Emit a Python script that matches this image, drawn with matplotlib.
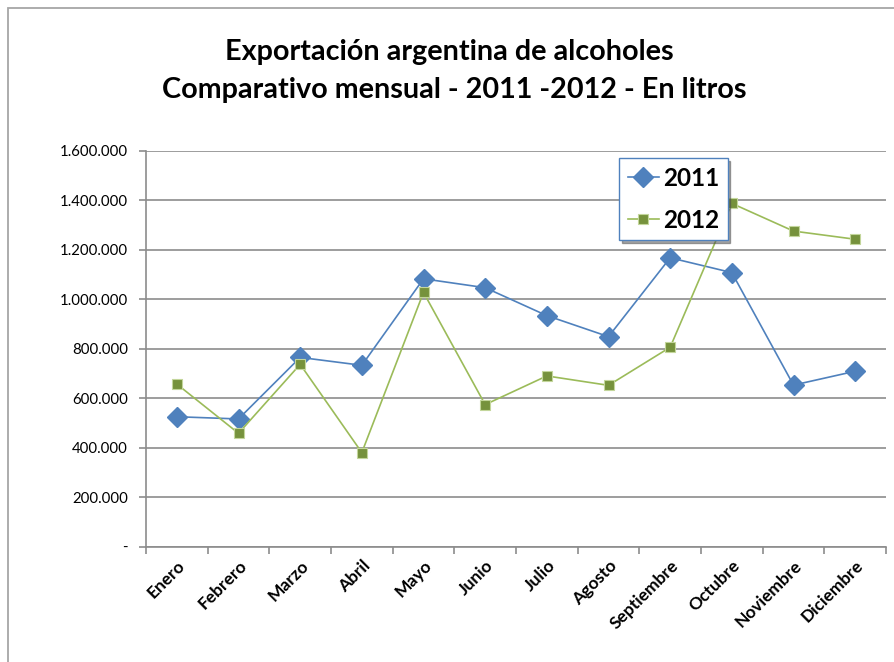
import matplotlib
matplotlib.use("Agg")
import matplotlib.pyplot as plt
from matplotlib.patches import Rectangle
from matplotlib.ticker import FuncFormatter, FixedLocator
import numpy as np

months = ["Enero", "Febrero", "Marzo", "Abril", "Mayo", "Junio", "Julio",
          "Agosto", "Septiembre", "Octubre", "Noviembre", "Diciembre"]
s2011 = [525000, 516000, 765000, 733000, 1083000, 1047000, 934000, 849000,
         1168000, 1108000, 653000, 709000]
s2012 = [657000, 458000, 737000, 380000, 1028000, 574000, 690000, 652000,
         806000, 1388000, 1276000, 1243000]
yticks = [0, 200000, 400000, 600000, 800000, 1000000, 1200000, 1400000, 1600000]

fig = plt.figure(figsize=(8.94, 6.62), dpi=100)
fig.patch.set_facecolor("white")

# outer chart border (extends beyond right/bottom edges)
fig.patches.append(Rectangle((8 / 894, -0.05), 1.2, 1 - 8 / 662 + 0.05,
                             transform=fig.transFigure, fill=False,
                             edgecolor="#A6A6A6", linewidth=1.3))

ax = fig.add_axes([146 / 894, 1 - 546.5 / 662, (886 - 146) / 894, (546.5 - 151) / 662])
x = np.arange(len(months))
ax.plot(x, s2011, color="#4F81BD", linewidth=1.2, marker="D", markersize=10,
        markerfacecolor="#4F81BD", markeredgecolor="#4F81BD", label="2011", zorder=3)
ax.plot(x, s2012, color="#9BBB59", linewidth=1.2, marker="s", markersize=7.5,
        markerfacecolor="#76923C", markeredgecolor="#C3D69B", markeredgewidth=0.8,
        label="2012", zorder=3)

ax.set_xlim(-0.5, len(months) - 0.5)
ax.set_ylim(0, 1600000)
ax.set_yticks(yticks)
ax.yaxis.set_major_formatter(FuncFormatter(
    lambda v, p: "-" if v == 0 else f"{int(v):,}".replace(",", ".")))
ax.grid(axis="y", color="#8C8C8C", linewidth=1.2)
ax.set_axisbelow(True)

for side in ["top", "right"]:
    ax.spines[side].set_visible(False)
ax.spines["left"].set_color("#8C8C8C")
ax.spines["bottom"].set_color("#8C8C8C")
ax.spines["left"].set_linewidth(1.2)
ax.spines["bottom"].set_linewidth(1.2)

ax.set_xticks(x)
ax.set_xticklabels(months, rotation=45, ha="right", rotation_mode="anchor",
                   fontsize=12.5, fontweight="bold", family="Lato")
ax.xaxis.set_minor_locator(FixedLocator(np.arange(-0.5, len(months), 1.0)))
ax.tick_params(axis="x", which="major", length=0, pad=8)
ax.tick_params(axis="x", which="minor", length=5, color="#8C8C8C", width=1.2)
ax.tick_params(axis="y", length=5, color="#8C8C8C", width=1.2, labelsize=10.8, pad=8)
for lab in ax.get_yticklabels():
    lab.set_family("Lato")

fig.text(0.503, 1 - 52 / 662, "Exportación argentina de alcoholes", ha="center",
         va="center", fontsize=20.7, fontweight="bold", family="Lato")
fig.text(0.508, 1 - 90 / 662, "Comparativo mensual - 2011 -2012 - En litros", ha="center",
         va="center", fontsize=20.7, fontweight="bold", family="Lato")

leg = ax.legend(loc="upper left", bbox_to_anchor=((619 - 146) / 740, 1 - (158 - 151) / 395.5),
                prop={"family": "Lato", "weight": "bold", "size": 17.5},
                frameon=True, fancybox=False, shadow=True, handlelength=1.3,
                borderpad=0.35, labelspacing=0.8, handletextpad=0.15, borderaxespad=0)
leg.get_frame().set_edgecolor("#4F81BD")
leg.get_frame().set_linewidth(1.0)
leg.set_zorder(5)

fig.savefig("out.png", dpi=100)
